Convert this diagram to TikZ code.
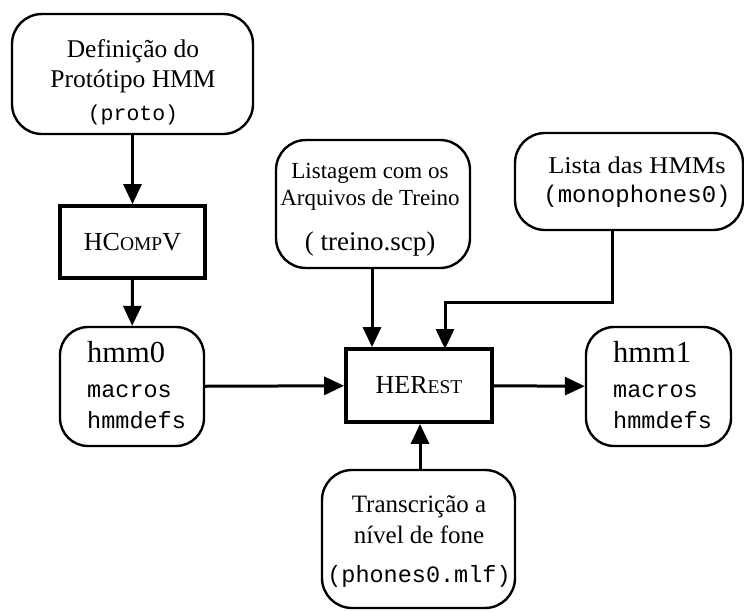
\documentclass[tikz,border=0pt]{standalone}
\usepackage{fontspec}
\setmainfont{Liberation Serif}
\setmonofont{Liberation Mono}
\usetikzlibrary{arrows.meta}
\tikzset{
  rbox/.style={draw, line width=2.4pt, rounded corners=30pt, inner sep=0pt},
  pbox/.style={draw, line width=3.8pt, inner sep=0pt, font=\fontsize{26}{28}\selectfont},
  txt/.style={inner sep=0pt, anchor=base, align=center},
  conn/.style={line width=3pt, -{Triangle[length=20pt,width=18pt]}},
}
\newcommand{\smc}[1]{{\fontsize{19.5}{19.5}\selectfont #1}}
\newcommand{\mono}[2][23.5]{{\fontsize{#1}{#1}\selectfont\texttt{#2}}}
\begin{document}
\begin{tikzpicture}[x=1pt,y=-1pt]
\useasboundingbox (0,0) rectangle (744,611);
% boxes
\node[rbox, minimum width=241pt, minimum height=120pt] (proto) at (132.5,74) {};
\node[pbox, minimum width=145pt, minimum height=72pt] (hcompv) at (132.5,242) {HC\smc{OMP}V};
\node[rbox, rounded corners=28pt, minimum width=144pt, minimum height=119pt] (hmm0) at (132,386.5) {};
\node[rbox, minimum width=194pt, minimum height=128pt] (list) at (373,204) {};
\node[rbox, minimum width=228pt, minimum height=97pt] (hmms) at (629,181.5) {};
\node[pbox, minimum width=146pt, minimum height=73pt] (herest) at (419,385.5) {HER\smc{EST}};
\node[rbox, rounded corners=28pt, minimum width=145pt, minimum height=119pt] (hmm1) at (658.5,386.5) {};
\node[rbox, minimum width=193pt, minimum height=138pt] (trans) at (418.5,539) {};
% texts (anchor base = baseline of the last line)
\node[txt, font=\fontsize{25.5}{30}\selectfont] (protot) at (133,120)
  {Definição do\\[0pt]Protótipo HMM\\[3pt]\mono[21.5]{(proto)}};
\node[txt, font=\fontsize{23}{27}\selectfont] (listt) at (370,250)
  {Listagem com os\\Arquivos de Treino\\[18pt]{\fontsize{27}{27}\selectfont ( treino.scp)}};
\node[txt, font=\fontsize{24}{29}\selectfont] (hmmst) at (637,202)
  {\scalebox{1.1}[1]{Lista das HMMs}\\\mono[24]{(monophones0)}};
\node[txt, font=\fontsize{25}{31}\selectfont] (transt) at (419,582)
  {Transcrição a\\nível de fone\\[8pt]\mono{(phones0.mlf)}};
\node[txt, anchor=base west, align=left, font=\fontsize{23.5}{31}\selectfont] (hmm0t) at (87,428)
  {{\fontsize{30.5}{30.5}\selectfont hmm0}\\[4pt]\mono{macros}\\\mono{hmmdefs}};
\node[txt, anchor=base west, align=left, font=\fontsize{23.5}{31}\selectfont] (hmm1t) at (613,428)
  {{\fontsize{30.5}{30.5}\selectfont hmm1}\\[4pt]\mono{macros}\\\mono{hmmdefs}};
% connectors
\coordinate (bend) at (612,302);
\coordinate (hin) at (445,349);
\coordinate (lx) at (372,0);
\coordinate (tx) at (420,0);
\draw[conn] (proto) -- (hcompv);
\draw[conn] (hcompv) -- (hmm0);
\draw[conn] (hmm0) -- (herest);
\draw[conn] (herest) -- (hmm1);
\draw[conn] (list.south -| lx) -- (herest.north -| lx);
\draw[conn] (hmms.south -| bend) -- (bend) -| (hin);
\draw[conn] (trans.north -| tx) -- (herest.south -| tx);
\end{tikzpicture}
\end{document}
